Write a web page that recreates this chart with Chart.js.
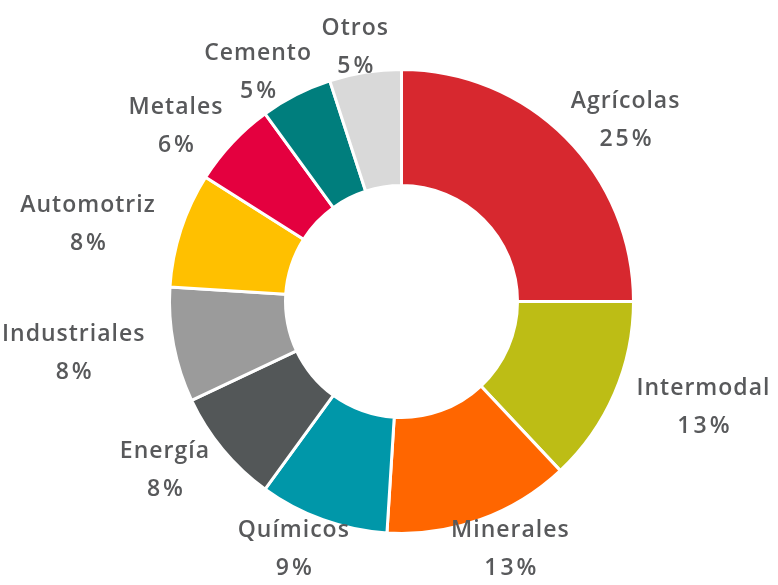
<!DOCTYPE html>
<html>
<head>
<meta charset="utf-8">
<script src="https://cdn.jsdelivr.net/npm/chart.js@4.4.0/dist/chart.umd.min.js"></script>
<style>
  html, body { margin: 0; padding: 0; background: #fff; }
  #wrap { width: 778px; height: 585px; position: relative; }
</style>
</head>
<body>
<div id="wrap"><canvas id="grafico"></canvas></div>
<script>
const categorias = ['Agrícolas', 'Intermodal', 'Minerales', 'Químicos', 'Energía',
                    'Industriales', 'Automotriz', 'Metales', 'Cemento', 'Otros'];
const porcentajes = [25, 13, 13, 9, 8, 8, 8, 6, 5, 5];
const colores = ['#d7282f', '#bdbd15', '#ff6600', '#0097a9', '#535758',
                 '#9b9b9b', '#ffc000', '#e4003f', '#007e7d', '#d9d9d9'];

// etiquetas fuera del anillo: nombre arriba, porcentaje abajo
const etiquetasFuera = {
    id: 'etiquetasFuera',
    afterDatasetsDraw(chart) {
        const ctx = chart.ctx;
        const meta = chart.getDatasetMeta(0);
        const total = porcentajes.reduce((a, b) => a + b, 0);
        ctx.save();
        ctx.font = '600 23px "Open Sans"';
        ctx.fillStyle = '#58595b';
        ctx.textAlign = 'center';
        ctx.textBaseline = 'middle';
        meta.data.forEach((arc, i) => {
            const a = (arc.startAngle + arc.endAngle) / 2;
            const dx = Math.cos(a), dy = Math.sin(a);
            const r = arc.outerRadius;
            const texto = categorias[i];
            const pct = Math.round(porcentajes[i] / total * 100) + '%';
            ctx.letterSpacing = '1px';
            const w1 = ctx.measureText(texto).width;
            ctx.letterSpacing = '3px';
            const w2 = ctx.measureText(pct).width;
            const w = Math.max(w1, w2);
            const cx = arc.x + dx * (r + 30 + w / 2);
            const cy = arc.y + dy * (r + 28) + 3;
            ctx.letterSpacing = '1px';
            ctx.fillText(texto, cx, cy - 19);
            ctx.letterSpacing = '3px';
            ctx.fillText(pct, cx + 1.5, cy + 19);
        });
        ctx.restore();
    }
};

new Chart(document.getElementById('grafico'), {
    type: 'doughnut',
    data: {
        labels: categorias,
        datasets: [{
            data: porcentajes,
            backgroundColor: colores,
            borderColor: '#ffffff',
            borderWidth: 3
        }]
    },
    options: {
        responsive: true,
        maintainAspectRatio: false,
        animation: false,
        cutout: '50%',
        layout: { padding: { top: 68, bottom: 50, left: 168, right: 143 } },
        plugins: {
            legend: { display: false },
            tooltip: { enabled: false }
        }
    },
    plugins: [etiquetasFuera]
});
</script>
</body>
</html>
